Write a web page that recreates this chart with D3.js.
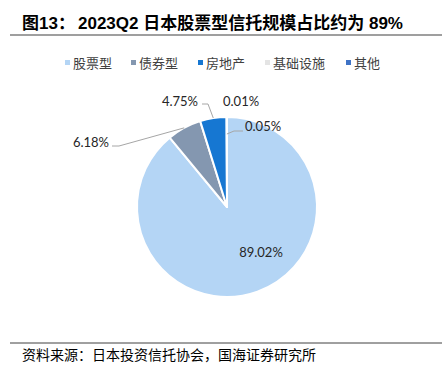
<!DOCTYPE html>
<html>
<head>
<meta charset="utf-8">
<script src="https://cdn.jsdelivr.net/npm/d3@7"></script>
<style>
  body { margin: 0; background: #fff; }
  svg { display: block; }
</style>
</head>
<body>
<script>
// chart data
var categories = ["股票型", "债券型", "房地产", "基础设施", "其他"];
var shares = [89.02, 6.18, 4.75, 0.01, 0.05];
var labels = ["89.02%", "6.18%", "4.75%", "0.01%", "0.05%"];
var colors = ["#b4d5f5", "#8497b0", "#1677d2", "#e4e4e4", "#3f73c6"];

var width = 442, height = 371;
var svg = d3.select("body").append("svg")
    .attr("width", width)
    .attr("height", height);

// title
var title = svg.append("text")
    .attr("x", 22)
    .attr("y", 29)
    .style("font-family", "Arial, 'Liberation Sans', 'Noto Sans CJK SC'")
    .style("font-weight", "bold")
    .style("font-size", "17px")
    .attr("fill", "#000");
title.append("tspan").text("图13：");
title.append("tspan").attr("x", 78).text("2023Q2 日本股票型信托规模占比约为 89%");

svg.append("line")
    .attr("x1", 10).attr("x2", width)
    .attr("y1", 35).attr("y2", 35)
    .attr("stroke", "#7f7f7f").attr("stroke-width", 1.5);

// legend
var legendX = [65, 131, 198, 265, 346];
var legend = svg.append("g").selectAll("g")
    .data(categories)
    .enter().append("g")
    .attr("transform", function(d, i) { return "translate(" + legendX[i] + ",63)"; });

legend.append("rect")
    .attr("x", 0).attr("y", -3)
    .attr("width", 5).attr("height", 5)
    .attr("fill", function(d, i) { return colors[i]; });

legend.append("text")
    .attr("x", 8)
    .attr("dy", "0.35em")
    .style("font-family", "'Noto Sans CJK SC'")
    .style("font-size", "13px")
    .attr("fill", "#404040")
    .text(function(d) { return d; });

// pie
var cx = 227, cy = 207, radius = 90;
var pie = d3.pie().sort(null).value(function(d) { return d; });
var arcs = pie(shares);
var arc = d3.arc().innerRadius(0).outerRadius(radius);

var g = svg.append("g").attr("transform", "translate(" + cx + "," + cy + ")");

g.selectAll("path.slice")
    .data(arcs)
    .enter().append("path")
    .attr("class", "slice")
    .attr("d", arc)
    .attr("fill", function(d, i) { return colors[i]; })
    .attr("stroke", "#fff")
    .attr("stroke-width", 2)
    .attr("stroke-linejoin", "round");

// label positions relative to the pie centre (Excel style placement)
var labelPos = [
    { x: 34, y: 45, anchor: "middle" },
    { x: -118, y: -65, anchor: "end" },
    { x: -29, y: -106, anchor: "end" },
    { x: -4, y: -106, anchor: "start" },
    { x: 18, y: -81, anchor: "start" }
];

// leader lines: start on slice at given radius, elbow point, end near label
var leaders = [
    null,
    { r: 90, elbow: [-108, -61], end: [-115, -61] },
    { r: 90, elbow: [-19, -103], end: [-25, -103] },
    null,
    { r: 73, elbow: [7, -76], end: [16, -76] }
];

function pointAt(d, r) {
    var a = (d.startAngle + d.endAngle) / 2;
    return [r * Math.sin(a), -r * Math.cos(a)];
}

arcs.forEach(function(d, i) {
    var L = leaders[i];
    if (!L) return;
    var p = pointAt(d, L.r);
    g.append("polyline")
        .attr("points", [p, L.elbow, L.end].map(function(q) { return q.join(","); }).join(" "))
        .attr("fill", "none")
        .attr("stroke", "#a6a6a6")
        .attr("stroke-width", 1);
});

g.selectAll("text.lbl")
    .data(arcs)
    .enter().append("text")
    .attr("class", "lbl")
    .attr("x", function(d, i) { return labelPos[i].x; })
    .attr("y", function(d, i) { return labelPos[i].y; })
    .attr("dy", "0.35em")
    .attr("text-anchor", function(d, i) { return labelPos[i].anchor; })
    .style("font-family", "Lato, 'Open Sans', sans-serif")
    .style("font-size", "13px")
    .attr("fill", "#262626")
    .text(function(d, i) { return labels[i]; });

// footer
svg.append("line")
    .attr("x1", 10).attr("x2", width)
    .attr("y1", 343).attr("y2", 343)
    .attr("stroke", "#404040").attr("stroke-width", 1);

svg.append("text")
    .attr("x", 22)
    .attr("y", 360)
    .style("font-family", "'Noto Sans CJK SC'")
    .style("font-size", "14px")
    .attr("fill", "#000")
    .text("资料来源：日本投资信托协会，国海证券研究所");
</script>
</body>
</html>
